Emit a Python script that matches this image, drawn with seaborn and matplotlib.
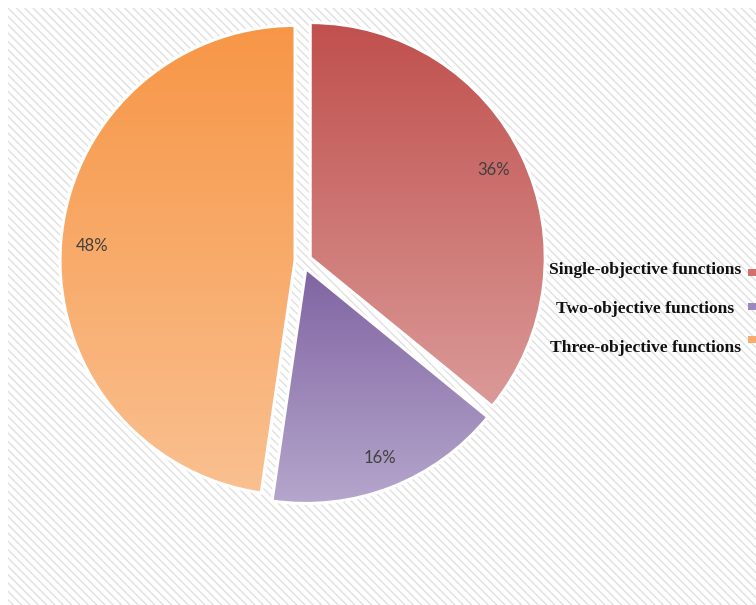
import numpy as np
import matplotlib
matplotlib.use('Agg')
import matplotlib.pyplot as plt
import seaborn as sns
from matplotlib.patches import Rectangle
from matplotlib.colors import LinearSegmentedColormap

# ---- data ----
categories = ['Single-objective functions', 'Two-objective functions', 'Three-objective functions']
shares = [35.9, 16.4, 47.7]
top_colors = ['#C0504D', '#8064A2', '#F79646']
bottom_colors = ['#DA9A98', '#B5A6CC', '#FAC090']
marker_colors = ['#D56F6D', '#9C88C0', '#F8AB6A']

sns.set_theme(style='white')
plt.rcParams['font.family'] = ['DejaVu Sans']

W, H = 756, 605
fig = plt.figure(figsize=(W / 100, H / 100), dpi=100)
fig.patch.set_facecolor('white')

# hatched background panel
bg = Rectangle((8 / W, 0), 1 - 8 / W, 1 - 8 / H, transform=fig.transFigure,
               facecolor='white', edgecolor='#e0e0e0', hatch='\\\\\\\\',
               linewidth=0, zorder=-5)
fig.patches.append(bg)

# pie axes: center (304, 261) px, radius 235 px
R = 235
cx, cy = 303, 261
lim = 1.1
side = 2 * lim * R
ax = fig.add_axes([(cx - side / 2) / W, (H - cy - side / 2) / H, side / W, side / H])
ax.patch.set_alpha(0)
ax.set_zorder(2)

wedges, texts, autotexts = ax.pie(
    shares, startangle=90, counterclock=False, explode=[0.034] * 3,
    autopct='%1.0f%%', pctdistance=0.865,
    wedgeprops=dict(linewidth=2.2, edgecolor='white'),
    textprops=dict(color='#404040', fontsize=12, family=['Lato', 'DejaVu Sans']))

grad = np.linspace(0, 1, 256).reshape(-1, 1)
for w, c0, c1 in zip(wedges, top_colors, bottom_colors):
    w.set_facecolor('none')
    w.set_zorder(3)
    ext = w.get_path().get_extents()
    cmap = LinearSegmentedColormap.from_list('g', [c0, c1])
    im = ax.imshow(grad, extent=(ext.x0, ext.x1, ext.y0, ext.y1), origin='upper',
                   cmap=cmap, aspect='auto', zorder=2, interpolation='bilinear')
    im.set_clip_path(w)
for t in autotexts:
    t.set_zorder(5)

ax.set_xlim(-lim, lim)
ax.set_ylim(-lim, lim)
ax.set_aspect('equal')
ax.axis('off')

# legend (labels centred, markers cut at right edge)
text_y = [270, 309, 348]
mark_y = [272, 306, 340]
for lab, ty, my, mc in zip(categories, text_y, mark_y, marker_colors):
    fig.text(645 / W, 1 - ty / H, lab, ha='center', va='center',
             family=['Liberation Serif'], fontweight='bold', fontsize=12.6,
             color='#111111', zorder=6)
    fig.patches.append(Rectangle((748 / W, 1 - (my + 3.5) / H), 10 / W, 7 / H,
                                 transform=fig.transFigure, facecolor=mc,
                                 edgecolor='none', zorder=5))

fig.savefig('out.png', dpi=100)
